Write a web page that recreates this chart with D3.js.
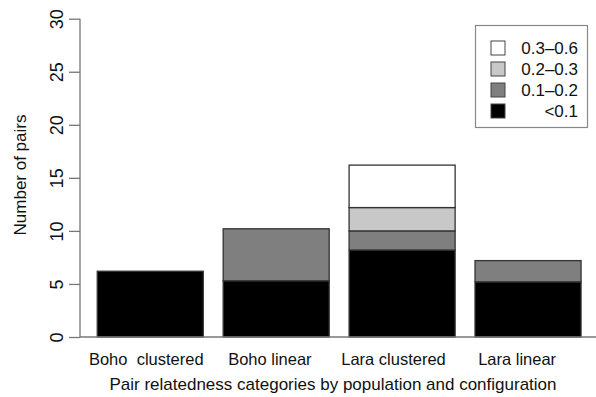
<!DOCTYPE html>
<html>
<head>
<meta charset="utf-8">
<script src="https://cdn.jsdelivr.net/npm/d3@7"></script>
<style>
  html, body { margin: 0; padding: 0; background: #fff; }
  svg text { font-family: "Liberation Sans", Arial, Helvetica, sans-serif; fill: #111; }
</style>
</head>
<body>
<svg id="chart" width="596" height="397"></svg>
<script>
// Groups along the x axis
const categories = ["Boho  clustered", "Boho linear", "Lara clustered", "Lara linear"];
// Relatedness classes, stacked bottom to top
const classes = ["<0.1", "0.1\u20130.2", "0.2\u20130.3", "0.3\u20130.6"];
// Number of pairs in each class, one value per category
const lt01   = [6.2, 5.3, 8.2, 5.2];
const r01_02 = [0.0, 4.9, 1.8, 2.0];
const r02_03 = [0.0, 0.0, 2.2, 0.0];
const r03_06 = [0.0, 0.0, 4.0, 0.0];
const yTicks = [0, 5, 10, 15, 20, 25, 30];
const xTitle = "Pair relatedness categories by population and configuration";
const yTitle = "Number of pairs";

const fills = ["#000000", "#7f7f7f", "#c8c8c8", "#ffffff"];
const series = [lt01, r01_02, r02_03, r03_06];

const rows = categories.map((c, i) => {
  const r = { category: c };
  classes.forEach((k, j) => { r[k] = series[j][i]; });
  return r;
});

const svg = d3.select("#chart");
const plotLeft = 80, plotBase = 337, plotTop = 18.7;

const x = d3.scaleBand()
  .domain(categories)
  .range([plotLeft, 598.3])
  .paddingInner(0.158)
  .paddingOuter(0.137);

const y = d3.scaleLinear().domain([0, 30]).range([plotBase, plotTop]);

const stacked = d3.stack().keys(classes)(rows);

// Stacked bars
svg.append("g")
  .selectAll("g")
  .data(stacked)
  .join("g")
  .attr("fill", (d, i) => fills[i])
  .selectAll("rect")
  .data(d => d.filter(s => s[1] - s[0] > 0))
  .join("rect")
  .attr("x", d => x(d.data.category))
  .attr("width", x.bandwidth())
  .attr("y", d => y(d[1]))
  .attr("height", d => y(d[0]) - y(d[1]))
  .attr("stroke", "#333")
  .attr("stroke-width", 1.3);

// Baseline
svg.append("line")
  .attr("x1", plotLeft).attr("x2", 596)
  .attr("y1", plotBase).attr("y2", plotBase)
  .attr("stroke", "#777").attr("stroke-width", 1.3);

// Y axis
const yAxis = svg.append("g")
  .attr("transform", `translate(${plotLeft},0)`)
  .call(d3.axisLeft(y).tickValues(yTicks).tickSize(11).tickPadding(0).tickFormat(d3.format("d")));
yAxis.select(".domain").attr("stroke", "#777").attr("stroke-width", 1.3).attr("d", `M0,${y(30)}V${y(0)}`);
yAxis.selectAll(".tick line").attr("stroke", "#777").attr("stroke-width", 1.3);
yAxis.selectAll(".tick text")
  .attr("x", null)
  .attr("text-anchor", "middle")
  .attr("transform", "translate(-17.5,0) rotate(-90)")
  .attr("y", 0)
  .attr("dy", "0em")
  .style("font-size", "18px")
  .style("fill", "#111");

// Category labels
svg.append("g")
  .selectAll("text")
  .data(categories)
  .join("text")
  .attr("x", (d, i) => x(d) + x.bandwidth() / 2 - 4 - i * 2.3)
  .attr("y", 364.5)
  .attr("text-anchor", "middle")
  .style("font-size", "16.5px")
  .style("white-space", "pre")
  .text(d => d);

// Axis titles
svg.append("text")
  .attr("x", 333).attr("y", 390)
  .attr("text-anchor", "middle")
  .style("font-size", "17px")
  .text(xTitle);

svg.append("text")
  .attr("transform", "translate(25.5,175) rotate(-90)")
  .attr("text-anchor", "middle")
  .style("font-size", "17px")
  .text(yTitle);

// Legend
const lg = svg.append("g");
lg.append("rect")
  .attr("x", 475.5).attr("y", 25.5)
  .attr("width", 112).attr("height", 102)
  .attr("fill", "#fff").attr("stroke", "#888").attr("stroke-width", 1.2);

const legendItems = classes.slice().reverse();
const legendFills = fills.slice().reverse();
const ly = d3.scalePoint().domain(legendItems).range([48, 111]);
lg.selectAll("rect.sw")
  .data(legendItems)
  .join("rect")
  .attr("class", "sw")
  .attr("x", 491).attr("y", d => ly(d) - 7)
  .attr("width", 14).attr("height", 14)
  .attr("fill", (d, i) => legendFills[i])
  .attr("stroke", "#444").attr("stroke-width", 1);
lg.selectAll("text")
  .data(legendItems)
  .join("text")
  .attr("x", 578).attr("y", d => ly(d) + 6)
  .attr("text-anchor", "end")
  .style("font-size", "17px")
  .text(d => d);
</script>
</body>
</html>
